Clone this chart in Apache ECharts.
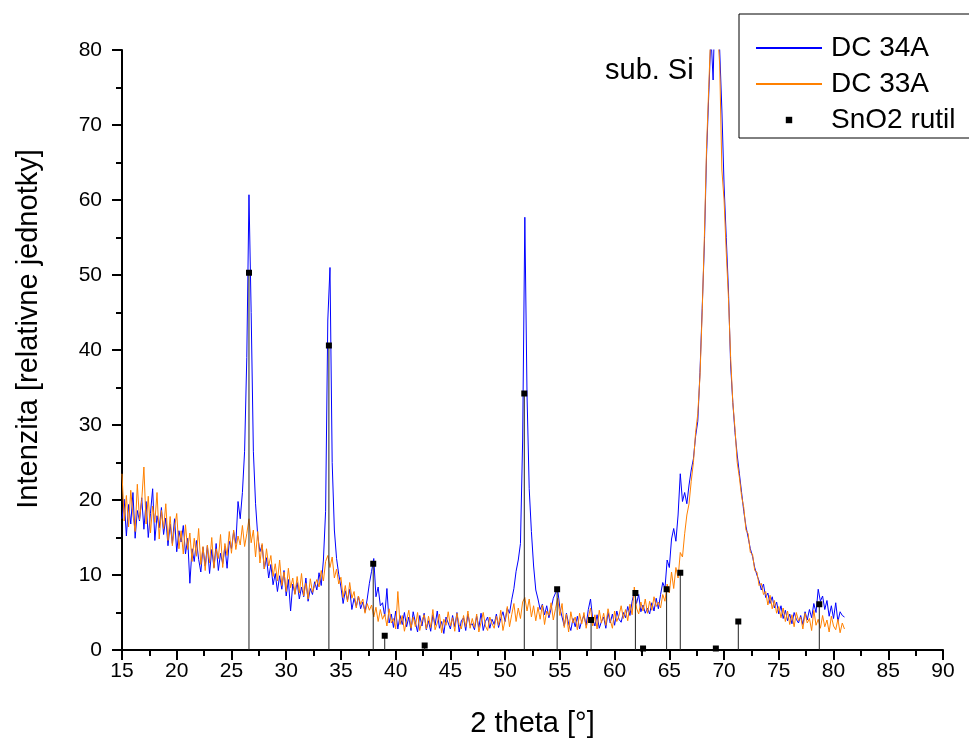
<!DOCTYPE html>
<html><head><meta charset="utf-8">
<script src="https://cdn.jsdelivr.net/npm/echarts@6/dist/echarts.min.js"></script>
<style>html,body{margin:0;padding:0;background:#fff}#c{width:969px;height:744px}</style>
</head><body><div id="c"></div>
<script>
const twoTheta = [
15,15.2,15.4,15.6,15.8,16,16.2,16.4,16.6,16.8,
17,17.2,17.4,17.6,17.8,18,18.2,18.4,18.6,18.8,
19,19.2,19.4,19.6,19.8,20,20.2,20.4,20.6,20.8,
21,21.2,21.4,21.6,21.8,22,22.2,22.4,22.6,22.8,
23,23.2,23.4,23.6,23.8,24,24.2,24.4,24.6,24.8,
25,25.2,25.4,25.6,25.8,26,26.2,26.4,26.6,26.8,
27,27.2,27.4,27.6,27.8,28,28.2,28.4,28.6,28.8,
29,29.2,29.4,29.6,29.8,30,30.2,30.4,30.6,30.8,
31,31.2,31.4,31.6,31.8,32,32.2,32.4,32.6,32.8,
33,33.2,33.4,33.6,33.8,34,34.2,34.4,34.6,34.8,
35,35.2,35.4,35.6,35.8,36,36.2,36.4,36.6,36.8,
37,37.2,37.4,37.6,37.8,38,38.2,38.4,38.6,38.8,
39,39.2,39.4,39.6,39.8,40,40.2,40.4,40.6,40.8,
41,41.2,41.4,41.6,41.8,42,42.2,42.4,42.6,42.8,
43,43.2,43.4,43.6,43.8,44,44.2,44.4,44.6,44.8,
45,45.2,45.4,45.6,45.8,46,46.2,46.4,46.6,46.8,
47,47.2,47.4,47.6,47.8,48,48.2,48.4,48.6,48.8,
49,49.2,49.4,49.6,49.8,50,50.2,50.4,50.6,50.8,
51,51.2,51.4,51.6,51.8,52,52.2,52.4,52.6,52.8,
53,53.2,53.4,53.6,53.8,54,54.2,54.4,54.6,54.8,
55,55.2,55.4,55.6,55.8,56,56.2,56.4,56.6,56.8,
57,57.2,57.4,57.6,57.8,58,58.2,58.4,58.6,58.8,
59,59.2,59.4,59.6,59.8,60,60.2,60.4,60.6,60.8,
61,61.2,61.4,61.6,61.8,62,62.2,62.4,62.6,62.8,
63,63.2,63.4,63.6,63.8,64,64.2,64.4,64.6,64.8,
65,65.2,65.4,65.6,65.8,66,66.2,66.4,66.6,66.8,
67,67.2,67.4,67.6,67.8,68,68.2,68.4,68.6,68.8,
69,69.2,69.4,69.6,69.8,70,70.2,70.4,70.6,70.8,
71,71.2,71.4,71.6,71.8,72,72.2,72.4,72.6,72.8,
73,73.2,73.4,73.6,73.8,74,74.2,74.4,74.6,74.8,
75,75.2,75.4,75.6,75.8,76,76.2,76.4,76.6,76.8,
77,77.2,77.4,77.6,77.8,78,78.2,78.4,78.6,78.8,
79,79.2,79.4,79.6,79.8,80,80.2,80.4,80.6,80.8,
81];

const dc34A = [
17.5,20.1,15.2,19.4,16.8,21.0,14.9,18.6,17.2,20.3,
16.1,19.8,15.0,18.2,21.5,14.6,17.9,16.3,19.0,15.4,
17.6,13.9,16.8,14.2,17.5,13.1,15.9,14.4,16.6,12.8,
14.9,8.9,13.5,11.8,14.6,12.1,10.4,13.7,11.2,13.9,
10.2,13.4,11.0,14.2,10.6,12.9,11.5,13.8,10.9,14.5,
13.5,15.8,14.2,19.8,17.5,21.0,26.5,39.0,60.7,45.0,
26.5,19.5,15.2,13.1,14.0,10.8,12.3,9.6,11.4,8.7,
10.2,7.8,9.9,8.1,10.6,7.2,9.4,5.2,8.8,7.5,
9.0,6.8,8.4,7.1,9.6,6.5,8.2,7.4,9.1,8.0,
10.3,8.6,12.0,18.5,44.0,51.0,25.0,16.0,12.2,10.1,
8.4,6.2,7.9,6.6,8.1,5.4,6.9,5.8,7.2,5.5,
6.4,5.1,6.8,8.9,10.5,12.2,7.1,8.4,5.9,6.3,
4.5,8.2,3.6,4.8,3.0,5.2,2.8,4.6,3.4,5.0,
3.1,4.4,2.6,5.1,3.7,2.4,4.6,3.2,4.9,2.7,
3.9,2.5,4.7,3.3,5.2,2.9,3.8,2.2,4.4,3.6,
2.8,4.6,3.1,5.0,2.4,3.9,4.3,2.6,4.8,3.3,
3.5,2.7,4.5,3.0,4.9,2.6,3.8,4.4,2.9,4.1,
3.4,4.8,3.0,4.2,5.1,3.8,5.6,4.9,6.7,8.2,
10.5,12.0,14.2,28.0,57.7,34.0,21.5,15.8,11.2,8.0,
6.8,5.4,6.1,4.7,5.9,4.3,5.5,6.9,7.6,8.1,
5.6,4.4,3.2,4.9,3.5,2.6,4.2,3.1,4.5,2.8,
3.9,4.6,3.3,5.4,6.8,4.1,3.2,4.7,2.9,3.8,
4.4,2.9,5.0,3.6,4.8,3.3,5.2,4.1,3.7,5.0,
4.3,5.8,4.6,6.5,7.8,6.2,7.4,5.1,6.0,4.9,
5.6,4.8,6.3,5.2,6.9,5.5,7.4,9.0,8.2,12.0,
11.0,14.8,16.2,14.5,18.0,23.5,19.8,21.0,19.5,22.0,
24.0,25.5,28.5,30.5,37.0,45.5,54.0,66.0,74.0,82.0,
76.0,88.0,85.0,80.0,72.0,62.0,55.0,48.0,38.0,33.0,
29.0,26.0,23.5,21.0,18.5,16.5,15.0,13.5,12.5,11.0,
10.0,9.2,8.0,8.8,7.0,7.6,6.2,7.1,5.6,6.4,
4.8,5.9,4.2,5.3,3.9,4.8,3.5,5.0,4.1,3.6,
4.6,3.4,5.1,4.0,5.4,4.3,6.2,5.0,8.1,6.5,
7.2,5.4,6.6,4.5,5.9,4.2,6.3,3.8,5.1,4.6,
4.4];

const dc33A = [
23.5,17.2,20.6,16.4,21.3,18.0,15.8,22.1,17.4,19.9,
24.4,16.8,20.5,15.6,19.2,17.0,21.0,14.8,18.6,16.2,
19.5,14.6,17.8,13.9,16.4,18.2,13.5,15.9,12.8,16.7,
13.4,15.6,11.8,14.9,12.5,16.2,11.4,13.8,10.6,14.0,
11.6,15.0,10.9,13.5,12.2,15.4,11.0,14.2,12.6,15.8,
12.9,16.0,13.4,15.2,14.0,16.6,13.8,15.5,17.5,14.3,
16.0,12.4,15.8,11.6,14.2,10.8,13.5,11.2,12.6,9.8,
11.5,9.2,12.0,8.6,10.4,7.8,10.9,8.3,9.6,7.4,
9.8,7.6,10.2,7.2,8.9,6.8,9.5,7.7,8.6,9.4,
8.4,10.6,9.2,11.8,12.6,11.0,12.4,9.6,10.8,8.8,
9.7,7.0,8.6,6.4,9.0,6.9,7.8,5.6,7.2,6.1,
6.8,4.9,6.2,5.3,6.0,4.4,5.7,3.8,5.4,4.1,
4.8,3.2,5.5,3.6,4.2,2.8,7.8,3.4,4.6,2.5,
4.0,5.3,2.9,4.4,3.1,5.0,2.6,3.9,4.7,2.8,
4.5,3.0,5.4,2.7,3.6,4.8,2.3,4.1,3.3,5.1,
3.2,4.3,2.5,4.9,3.4,2.8,4.6,3.1,5.2,2.9,
4.2,3.0,4.8,2.4,3.7,5.0,3.2,2.6,4.4,3.5,
2.9,4.5,3.3,5.3,2.6,4.0,5.8,3.1,4.7,6.2,
3.8,5.6,4.2,6.4,7.0,5.2,6.8,4.4,5.9,3.9,
5.7,4.1,6.0,3.4,5.2,4.6,6.3,4.0,5.5,6.9,
4.6,6.2,3.0,4.8,2.4,5.1,3.6,4.4,2.7,4.9,
3.5,5.0,2.9,4.3,5.6,3.2,4.7,2.8,5.3,3.6,
4.9,3.3,5.5,4.0,2.9,5.2,3.8,4.6,5.9,4.2,
5.4,3.9,6.1,4.7,8.4,5.6,4.8,6.4,5.2,6.8,
4.9,6.5,5.3,7.1,5.8,6.4,5.6,7.4,6.5,8.8,
7.6,10.4,8.2,11.0,9.6,13.0,12.4,15.5,18.0,19.5,
22.5,25.0,29.0,31.5,36.5,45.0,55.0,67.0,75.0,83.0,
86.0,88.0,83.0,78.0,64.0,60.0,53.0,47.0,39.0,33.0,
29.5,25.0,23.0,20.5,19.0,16.0,15.5,13.0,12.8,10.6,
10.4,8.6,8.9,7.4,7.8,6.0,7.3,5.5,6.6,4.9,
5.8,4.3,5.6,3.8,5.2,3.4,4.7,3.1,5.0,3.9,
4.4,2.8,4.9,3.6,4.2,2.6,5.3,3.3,4.1,2.9,
4.6,3.1,4.0,2.4,4.5,3.2,2.7,4.1,2.3,3.6,
2.8];

const rutilPos = [26.6, 33.9, 37.95, 39.0, 42.65, 51.75, 54.75, 57.85, 61.9, 62.6, 64.75, 66.0, 69.25, 71.3, 78.7];
const rutilInt = [50.3, 40.6, 11.5, 1.9, 0.6, 34.2, 8.1, 4.0, 7.6, 0.2, 8.1, 10.3, 0.2, 3.8, 6.1];

const seriesNames = ['DC 34A', 'DC 33A', 'SnO2 rutil'];
const xTitle = '2 theta [°]';
const yTitle = 'Intenzita [relativne jednotky]';
const peakLabel = 'sub. Si';

const FONT = '"Liberation Sans", Arial, sans-serif';
const pairs = (xs, ys) => xs.map((x, i) => [x, ys[i]]);

const axisCommon = {
  axisLine: {show: true, lineStyle: {color: '#000', width: 2}},
  axisTick: {show: true, inside: false, length: 10, lineStyle: {color: '#000', width: 2}},
  minorTick: {show: true, splitNumber: 2, length: 6, lineStyle: {color: '#000', width: 2}},
  splitLine: {show: false}, minorSplitLine: {show: false}
};

const chart = echarts.init(document.getElementById('c'), null, {renderer: 'canvas'});
chart.setOption({
  animation: false,
  backgroundColor: '#fff',
  grid: {left: 122, right: 26, top: 50, bottom: 94},
  xAxis: Object.assign({
    type: 'value', min: 15, max: 90, interval: 5,
    name: xTitle, nameLocation: 'middle', nameGap: 59,
    nameTextStyle: {fontFamily: FONT, fontSize: 29, color: '#000'},
    axisLabel: {fontFamily: FONT, fontSize: 21, color: '#000', margin: 11}
  }, axisCommon),
  yAxis: Object.assign({
    type: 'value', min: 0, max: 80, interval: 10,
    axisLabel: {fontFamily: FONT, fontSize: 21, color: '#000', margin: 20}
  }, axisCommon),
  legend: {
    orient: 'vertical', left: 739, top: 14,
    padding: [19, 40, 3, 16],
    itemWidth: 66, itemHeight: 8, itemGap: 6,
    borderColor: '#000', borderWidth: 1, borderRadius: 0,
    backgroundColor: '#fff',
    selectedMode: false,
    textStyle: {fontFamily: FONT, fontSize: 28, color: '#000', lineHeight: 30, padding: [0, 0, 0, 4]},
    data: [
      {name: seriesNames[0], itemStyle: {opacity: 0}},
      {name: seriesNames[1], itemStyle: {opacity: 0}},
      {name: seriesNames[2], lineStyle: {opacity: 0}}
    ]
  },
  graphic: [
    {type: 'text', left: 605, top: 56, style: {text: peakLabel, font: '29px ' + FONT, fill: '#000'}},
    {type: 'text', x: 29, y: 329, rotation: Math.PI / 2,
      style: {text: yTitle, font: '29px ' + FONT, fill: '#000', align: 'center', verticalAlign: 'middle'}}
  ],
  series: [
    {name: seriesNames[0], type: 'line', data: pairs(twoTheta, dc34A), symbol: 'none', clip: true,
      lineStyle: {color: '#0000ff', width: 1}, itemStyle: {color: '#0000ff'}, z: 2},
    {name: seriesNames[1], type: 'line', data: pairs(twoTheta, dc33A), symbol: 'none', clip: true,
      lineStyle: {color: '#ff8000', width: 1}, itemStyle: {color: '#ff8000'}, z: 3},
    {name: 'stems', type: 'custom', data: pairs(rutilPos, rutilInt), z: 4, silent: true,
      renderItem: (params, api) => {
        const p0 = api.coord([api.value(0), 0]);
        const p1 = api.coord([api.value(0), api.value(1)]);
        return {type: 'line', shape: {x1: p0[0], y1: p0[1], x2: p1[0], y2: p1[1]},
          style: {stroke: '#222', lineWidth: 1}};
      }},
    {name: seriesNames[2], type: 'line', data: pairs(rutilPos, rutilInt), symbol: 'rect', symbolSize: 6,
      showAllSymbol: true, lineStyle: {opacity: 0, width: 0}, itemStyle: {color: '#000'}, z: 5}
  ]
});
</script>
</body></html>
